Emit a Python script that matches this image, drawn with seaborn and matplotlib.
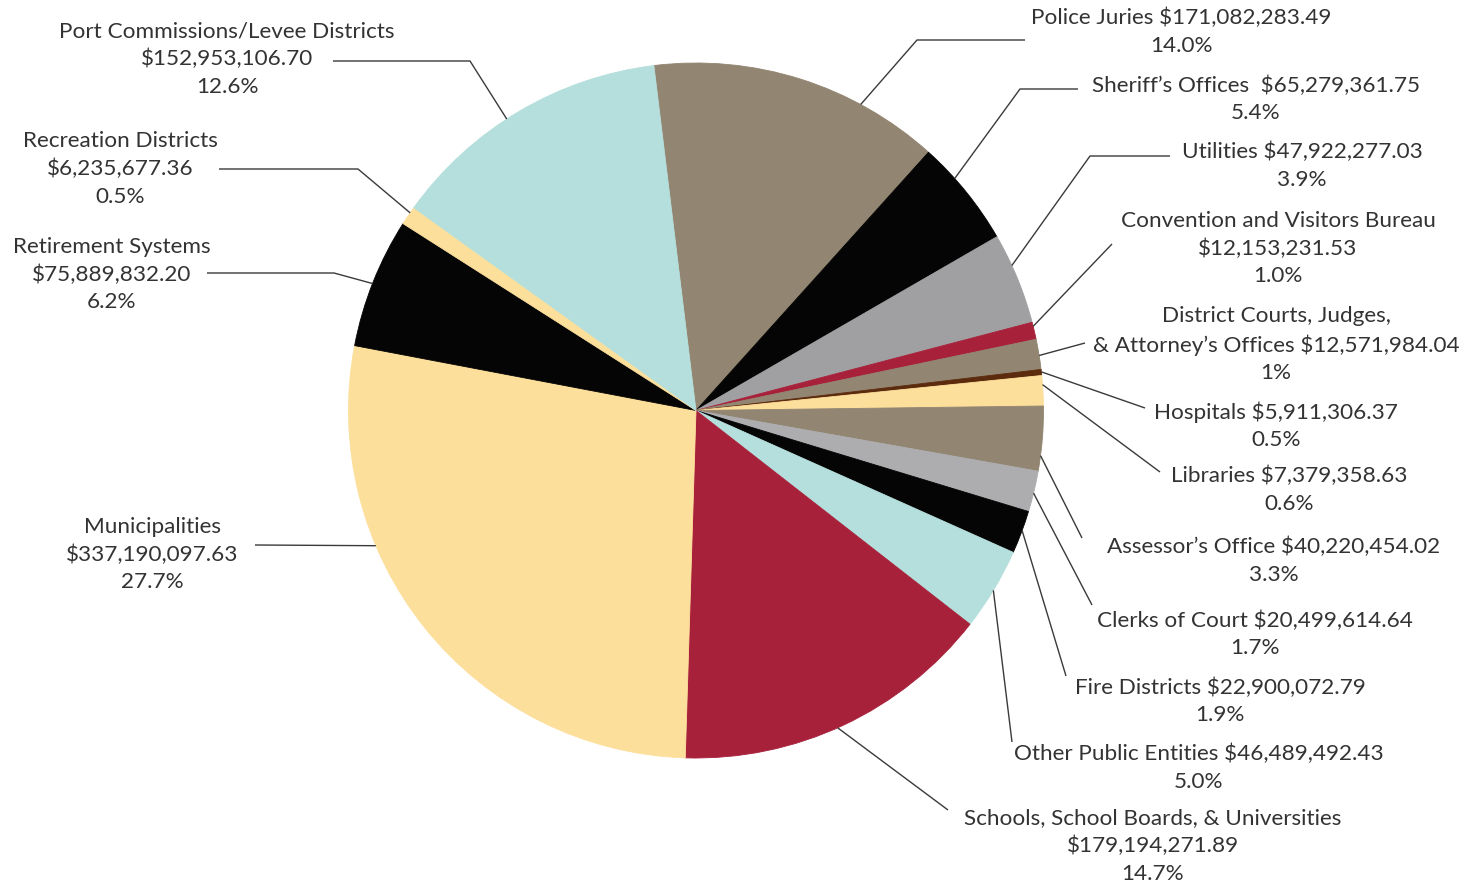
import numpy as np
import matplotlib
matplotlib.use("Agg")
import matplotlib.pyplot as plt
import seaborn as sns

# ---------------- data ----------------
names = [
    "Police Juries", "Sheriff\u2019s Offices", "Utilities", "Convention and Visitors Bureau",
    "District Courts, Judges,\n& Attorney\u2019s Offices", "Hospitals", "Libraries",
    "Assessor\u2019s Office", "Clerks of Court", "Fire Districts", "Other Public Entities",
    "Schools, School Boards, & Universities", "Municipalities", "Retirement Systems",
    "Recreation Districts", "Port Commissions/Levee Districts",
]
amounts = [
    "$171,082,283.49", "$65,279,361.75", "$47,922,277.03", "$12,153,231.53",
    "$12,571,984.04", "$5,911,306.37", "$7,379,358.63", "$40,220,454.02",
    "$20,499,614.64", "$22,900,072.79", "$46,489,492.43", "$179,194,271.89",
    "$337,190,097.63", "$75,889,832.20", "$6,235,677.36", "$152,953,106.70",
]
pct_labels = [
    "14.0%", "5.4%", "3.9%", "1.0%", "1%", "0.5%", "0.6%", "3.3%",
    "1.7%", "1.9%", "5.0%", "14.7%", "27.7%", "6.2%", "0.5%", "12.6%",
]
# slice shares as drawn in the picture (percent of circle)
slice_share = [
    13.6, 5.0, 4.25, 0.8, 1.4, 0.28, 1.4, 3.0,
    1.9, 2.0, 3.85, 14.95, 27.5, 6.05, 0.88, 13.15,
]
colors = [
    "#928571", "#050505", "#a0a0a2", "#a8213b", "#928571", "#5c2a0c", "#fddf9c", "#928571",
    "#adadb0", "#050505", "#b5dfdc", "#a8213b", "#fddf9c", "#050505", "#fddf9c", "#b5dfdc",
]

# ---------------- layout (pixel space of the 1477x886 canvas) ----------------
CX, CY, R = 696.0, 410.5, 347.5
def X(px): return (px - CX) / R
def Y(py): return (CY - py) / R

label_style = ["inline", "inline2", "inline", "three", "inline", "inline", "inline", "inline",
               "inline", "inline", "inline", "three", "three", "three", "three", "three"]
text_pos = [
    (1181, 32), (1256, 99.5), (1302, 166), (1278, 248.5), (1276, 344.5), (1276, 426),
    (1289, 490), (1274, 561), (1255, 634.5), (1220, 701.5), (1199, 768), (1153, 846),
    (152, 554.5), (112, 274.5), (120, 169), (227, 59),
]
anchor_frac = [0.72, 0.34, 0.35, 0.24, 0.54, 0.4, 0.3, 0.76,
               0.54, 0.46, 0.51, 0.52, 0.66, 0.49, 0.67, 0.45]
leader_pts = [
    [(917, 40), (1025, 40)], [(1020, 89), (1078, 89)], [(1090, 156), (1170, 156)],
    [(1112, 244)], [(1085, 343)], [(1145, 408)], [(1160, 472)], [(1082, 538)],
    [(1092, 605)], [(1066, 676)], [(1012, 742)], [(948, 810)],
    [(255, 545)], [(334, 273), (207, 273)], [(358, 169), (219, 169)], [(470, 61), (333, 61)],
]

sns.set_theme(style="white")
plt.rcParams["font.family"] = ["Lato", "DejaVu Sans"]

fig = plt.figure(figsize=(14.77, 8.86), dpi=100)
ax = fig.add_axes([0, 0, 1, 1])

wedges, _ = ax.pie(slice_share, colors=colors, startangle=96.96, counterclock=False,
                   radius=1.0, center=(0, 0),
                   wedgeprops=dict(linewidth=0.6))
for w, c in zip(wedges, colors):
    w.set_edgecolor(c)

ax.set_xlim(X(0), X(1477))
ax.set_ylim(Y(886), Y(0))
ax.set_aspect("auto")
ax.axis("off")

text_color = "#333333"
for i, w in enumerate(wedges):
    ang = np.deg2rad(w.theta2 - anchor_frac[i] * (w.theta2 - w.theta1))
    pts = [(np.cos(ang), np.sin(ang))] + [(X(px), Y(py)) for px, py in leader_pts[i]]
    xs, ys = zip(*pts)
    ax.plot(xs, ys, color="#3a3a3a", lw=1.0, solid_capstyle="butt", zorder=1)

    st = label_style[i]
    if st == "inline":
        txt = f"{names[i]} {amounts[i]}\n{pct_labels[i]}"
    elif st == "inline2":
        txt = f"{names[i]}  {amounts[i]}\n{pct_labels[i]}"
    else:
        txt = f"{names[i]}\n{amounts[i]}\n{pct_labels[i]}"
    tx, ty = text_pos[i]
    ax.text(X(tx), Y(ty), txt, ha="center", va="center", multialignment="center",
            fontsize=16.2, color=text_color, linespacing=1.46)

fig.savefig("out.png", dpi=100, facecolor="white")
